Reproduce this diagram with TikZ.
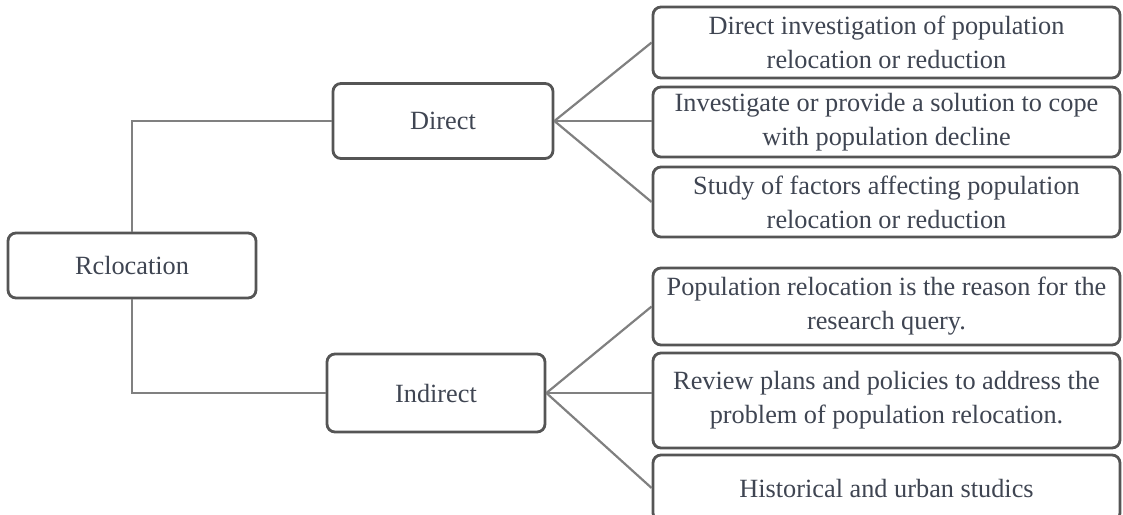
\documentclass[tikz,border=0pt]{standalone}
\usepackage{fontspec}
\setmainfont{Liberation Serif}
\usepackage{xcolor}
\definecolor{boxline}{HTML}{555555}
\definecolor{linkline}{HTML}{808080}
\definecolor{txt}{HTML}{3F4552}

\begin{document}
\begin{tikzpicture}[x=1pt,y=-1pt]
\tikzset{box/.style={draw=boxline,line width=2.8pt,rounded corners=8pt,fill=white,
    inner sep=0pt,align=center,text=txt,font=\fontsize{26.3}{34}\selectfont},
  lnk/.style={draw=linkline,line width=2.2pt}}
\newcommand\rbox[4]{
  \node[box,minimum width=467pt,minimum height=#3pt] (#1) at (886.5,#2) {#4};
}
\useasboundingbox (0,0) rectangle (1123,514);
\clip (0,0) rectangle (1123,514);

\node[box,minimum width=248pt,minimum height=65pt] (rel) at (132,265.5) {Rclocation};
\node[box,minimum width=220pt,minimum height=75pt] (dir) at (443,121) {Direct};
\node[box,minimum width=218pt,minimum height=78pt] (ind) at (436,393) {Indirect};

\rbox{r1}{42.5}{71}{Direct investigation of population\\relocation or reduction}
\rbox{r2}{122}{70}{Investigate or provide a solution to cope\\with population decline}
\rbox{r3}{202}{70}{Study of factors affecting population\\relocation or reduction}
\rbox{r4}{306.5}{77}{Population relocation is the reason for the\\research query.}
\rbox{r5}{400.5}{95}{Review plans and policies to address the\\problem of population relocation.}
\rbox{r6}{488}{66}{Historical and urban studics}

\draw[lnk] (rel.north) |- (dir.west);
\draw[lnk] (rel.south) |- (ind.west);
\draw[lnk] (dir.east) -- (r1.west);
\draw[lnk] (dir.east) -- (dir.east -| r2.west);
\draw[lnk] (dir.east) -- (r3.west);
\draw[lnk] (ind.east) -- (r4.west);
\draw[lnk] (ind.east) -- (ind.east -| r5.west);
\draw[lnk] (ind.east) -- (r6.west);
\end{tikzpicture}
\end{document}
